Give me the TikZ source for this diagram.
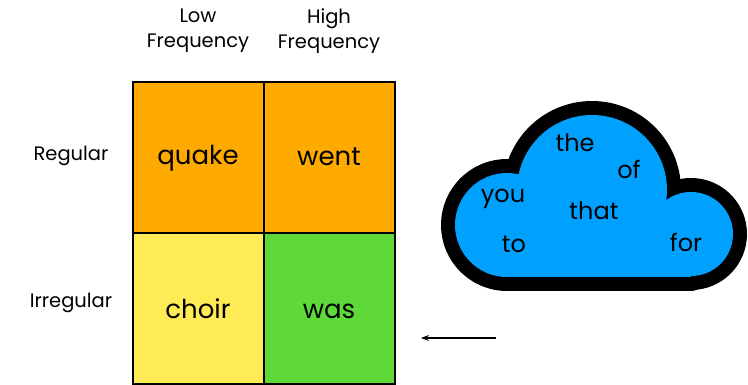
\documentclass[tikz,border=0pt]{standalone}
\usepackage{fontspec}
\setmainfont{Poppins}
\usetikzlibrary{arrows.meta}
\definecolor{orng}{HTML}{FFAA00}
\definecolor{yell}{HTML}{FFEB55}
\definecolor{grn}{HTML}{5FD93A}
\definecolor{cloudblue}{HTML}{00A0FF}
\begin{document}
\begin{tikzpicture}[x=1pt,y=-1pt,
  cell/.style={draw=black,line width=1.3pt,minimum width=131pt,minimum height=151pt,inner sep=0pt},
  celltext/.style={font=\fontsize{26}{28}\selectfont},
  head/.style={align=center,font=\fontsize{19.5}{25}\selectfont},
  rowlab/.style={font=\fontsize{19.5}{22}\selectfont},
  word/.style={font=\fontsize{24}{26}\selectfont}]
\useasboundingbox (0,0) rectangle (748,385);
% grid
\node[cell,fill=orng] (q) at (198.5,157.5) {};
\node[cell,fill=orng] (w) at (329.5,157.5) {};
\node[cell,fill=yell] (c) at (198.5,308.5) {};
\node[cell,fill=grn]  (s) at (329.5,308.5) {};
\node[celltext] (qt) at (198,158) {quake};
\node[celltext] (wt) at (329,157) {went};
\node[celltext] (ct) at (198,309) {choir};
\node[celltext] (st) at (329,311) {was};
% headers
\node[head] (lf) at (198,31) {Low\\Frequency};
\node[head] (hf) at (329,31) {High\\Frequency};
\node[rowlab] (rg) at (71,156) {Regular};
\node[rowlab] (ir) at (71,303) {Irregular};
% cloud
\begin{scope}[line join=round]
\draw[line width=28pt,fill=black] (507,225) circle[radius=52];
\draw[line width=28pt,fill=black] (592,190) circle[radius=75];
\draw[line width=28pt,fill=black] (691,234) circle[radius=42];
\draw[line width=28pt,fill=black] (507,200) rectangle (691,277);
\fill[cloudblue] (507,225) circle[radius=52];
\fill[cloudblue] (592,190) circle[radius=75];
\fill[cloudblue] (691,234) circle[radius=42];
\fill[cloudblue] (507,200) rectangle (691,277);
\end{scope}
\node[word] (the) at (575,143) {the};
\node[word] (of) at (629,169) {of};
\node[word] (you) at (503,199) {you};
\node[word] (that) at (594,211) {that};
\node[word] (to) at (514,244) {to};
\node[word] (for) at (686,242) {for};
% arrow
\coordinate (as) at (496,338);
\coordinate (ae) at (421,338);
\draw[line width=1.3pt,-{Stealth[length=8pt,width=6pt]}] (as) -- (ae);
\end{tikzpicture}
\end{document}
